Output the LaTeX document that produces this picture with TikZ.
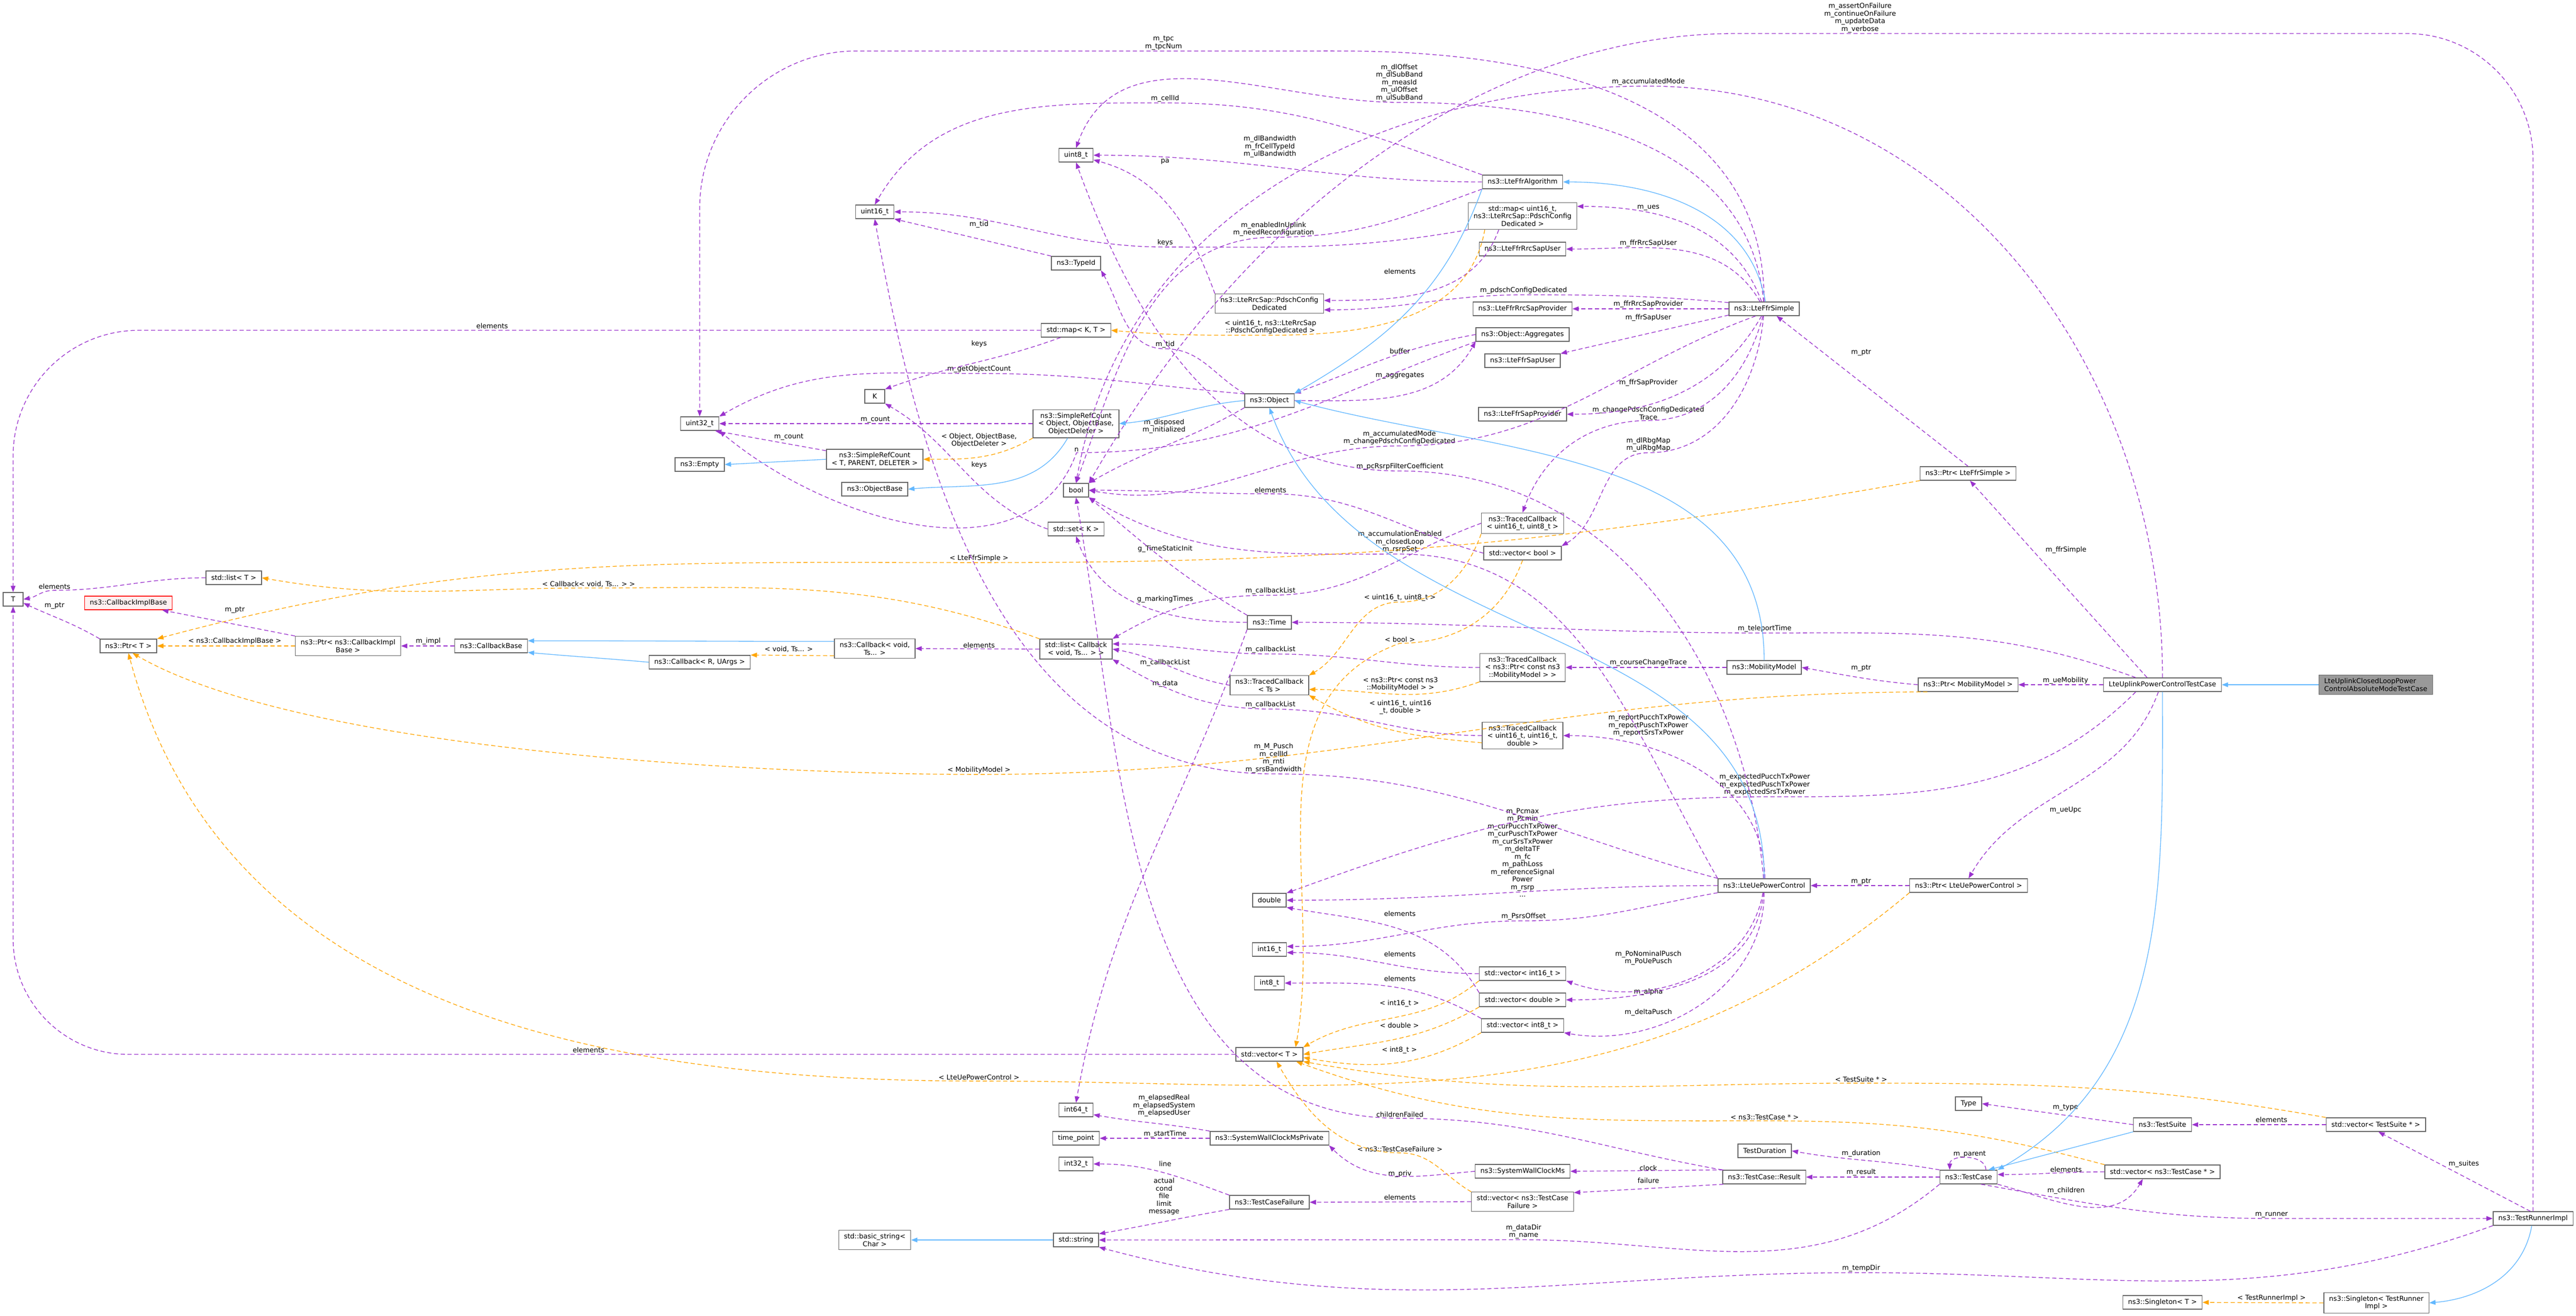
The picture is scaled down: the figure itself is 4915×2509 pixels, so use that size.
\documentclass[tikz,border=0pt]{standalone}
\usepackage{fontspec}
\setmainfont{DejaVu Sans}
\usetikzlibrary{arrows.meta}
\definecolor{usecol}{HTML}{9A32CD}
\definecolor{tmplcol}{HTML}{FFA500}
\definecolor{inhcol}{HTML}{63B8FF}
\definecolor{boxcol}{HTML}{666666}
\definecolor{mainfill}{HTML}{999999}
\definecolor{undocfill}{HTML}{FFF0F0}

\begin{document}
\begin{tikzpicture}[x=0.25pt, y=-0.25pt,
  cls/.style={draw=boxcol, fill=white, line width=0.35pt, font=\fontsize{3.25}{3.625}\selectfont,
    inner xsep=2.5pt, inner ysep=1.5pt, minimum height=6.5pt, minimum width=9.5pt, align=center},
  lbl/.style={font=\fontsize{3.25}{3.625}\selectfont, inner sep=0.25pt, align=center},
  use/.style={draw=usecol, line width=0.33pt, dash pattern=on 2pt off 1.25pt, -{Triangle[length=3pt,width=2.25pt]}},
  tmpl/.style={draw=tmplcol, line width=0.33pt, dash pattern=on 2pt off 1.25pt, -{Triangle[length=3pt,width=2.25pt]}},
  inh/.style={draw=inhcol, line width=0.33pt, -{Triangle[length=3pt,width=2.25pt]}}]
\useasboundingbox (0,0) rectangle (4915,2509);
\fill[white] (0,0) rectangle (4915,2509);

\node[cls] (T) at (25,1143) {T};
\node[cls, draw=red, fill=undocfill] (CallbackImplBase) at (245,1150) {ns3::CallbackImplBase};
\node[cls] (PtrT) at (245,1232) {ns3::Ptr< T >};
\node[cls] (ListT) at (446,1102) {std::list< T >};
\node[cls] (PtrCIB) at (664,1232) {ns3::Ptr< ns3::CallbackImpl\\Base >};
\node[cls] (CallbackBase) at (937,1232) {ns3::CallbackBase};
\node[cls] (Uint32) at (1335,808) {uint32\_t};
\node[cls] (Empty) at (1335,886) {ns3::Empty};
\node[cls] (CallbackRU) at (1335,1263) {ns3::Callback< R, UArgs >};
\node[cls] (Uint16) at (1669,404) {uint16\_t};
\node[cls] (K) at (1669,756) {K};
\node[cls] (SRCT) at (1669,876) {ns3::SimpleRefCount\\< T, PARENT, DELETER >};
\node[cls] (ObjectBase) at (1669,933) {ns3::ObjectBase};
\node[cls] (CallbackVoid) at (1669,1237) {ns3::Callback< void,\\Ts... >};
\node[cls] (BasicString) at (1669,2365) {std::basic\_string<\\Char >};
\node[cls] (Uint8) at (2053,296) {uint8\_t};
\node[cls] (TypeId) at (2053,502) {ns3::TypeId};
\node[cls] (MapKT) at (2053,630) {std::map< K, T >};
\node[cls] (SRCObj) at (2053,808) {ns3::SimpleRefCount\\< Object, ObjectBase,\\ObjectDeleter >};
\node[cls] (Bool) at (2053,935) {bool};
\node[cls] (SetK) at (2053,1009) {std::set< K >};
\node[cls] (ListCb) at (2053,1238) {std::list< Callback\\< void, Ts... > >};
\node[cls] (Int64) at (2053,2117) {int64\_t};
\node[cls] (TimePoint) at (2053,2171) {time\_point};
\node[cls] (Int32) at (2053,2220) {int32\_t};
\node[cls] (String) at (2053,2365) {std::string};
\node[cls] (PdschCfg) at (2422,579) {ns3::LteRrcSap::PdschConfig\\Dedicated};
\node[cls] (Object) at (2422,764) {ns3::Object};
\node[cls] (Time) at (2422,1187) {ns3::Time};
\node[cls] (TCbTs) at (2422,1307) {ns3::TracedCallback\\< Ts >};
\node[cls] (Double) at (2422,1717) {double};
\node[cls] (Int16) at (2422,1811) {int16\_t};
\node[cls] (Int8) at (2422,1875) {int8\_t};
\node[cls] (VectorT) at (2422,2011) {std::vector< T >};
\node[cls] (SWCMsPriv) at (2422,2171) {ns3::SystemWallClockMsPrivate};
\node[cls] (TCFailure) at (2422,2293) {ns3::TestCaseFailure};
\node[cls] (FfrAlgo) at (2905,347) {ns3::LteFfrAlgorithm};
\node[cls] (MapPdsch) at (2905,412) {std::map< uint16\_t,\\ns3::LteRrcSap::PdschConfig\\Dedicated >};
\node[cls] (FfrRrcUser) at (2905,475) {ns3::LteFfrRrcSapUser};
\node[cls] (FfrRrcProv) at (2905,589) {ns3::LteFfrRrcSapProvider};
\node[cls] (Aggregates) at (2905,638) {ns3::Object::Aggregates};
\node[cls] (FfrSapUser) at (2905,688) {ns3::LteFfrSapUser};
\node[cls] (FfrSapProv) at (2905,790) {ns3::LteFfrSapProvider};
\node[cls] (TCbU16U8) at (2905,998) {ns3::TracedCallback\\< uint16\_t, uint8\_t >};
\node[cls] (VecBool) at (2905,1055) {std::vector< bool >};
\node[cls] (TCbMob) at (2905,1273) {ns3::TracedCallback\\< ns3::Ptr< const ns3\\::MobilityModel > >};
\node[cls] (TCbPow) at (2905,1403) {ns3::TracedCallback\\< uint16\_t, uint16\_t,\\double >};
\node[cls] (VecInt16) at (2905,1857) {std::vector< int16\_t >};
\node[cls] (VecDouble) at (2905,1907) {std::vector< double >};
\node[cls] (VecInt8) at (2905,1956) {std::vector< int8\_t >};
\node[cls] (SWCMs) at (2905,2234) {ns3::SystemWallClockMs};
\node[cls] (VecTCF) at (2905,2292) {std::vector< ns3::TestCase\\Failure >};
\node[cls] (FfrSimple) at (3366,589) {ns3::LteFfrSimple};
\node[cls] (Mobility) at (3366,1273) {ns3::MobilityModel};
\node[cls] (UePC) at (3366,1689) {ns3::LteUePowerControl};
\node[cls] (Duration) at (3367,2195) {TestDuration};
\node[cls] (Result) at (3366,2245) {ns3::TestCase::Result};
\node[cls] (PtrFfr) at (3755,903) {ns3::Ptr< LteFfrSimple >};
\node[cls] (PtrMob) at (3755,1306) {ns3::Ptr< MobilityModel >};
\node[cls] (PtrUePC) at (3756,1689) {ns3::Ptr< LteUePowerControl >};
\node[cls] (Type) at (3756,2105) {Type};
\node[cls] (TestCase) at (3756,2245) {ns3::TestCase};
\node[cls] (UlPcTest) at (4126,1306) {LteUplinkPowerControlTestCase};
\node[cls] (TestSuite) at (4126,2145) {ns3::TestSuite};
\node[cls] (VecTC) at (4126,2235) {std::vector< ns3::TestCase * >};
\node[cls] (SingletonT) at (4126,2484) {ns3::Singleton< T >};
\node[cls, fill=mainfill, align=left] (AbsModeTest) at (4533,1306) {LteUplinkClosedLoopPower\\ControlAbsoluteModeTestCase};
\node[cls] (VecTS) at (4533,2145) {std::vector< TestSuite * >};
\node[cls] (SingletonRunner) at (4534,2485) {ns3::Singleton< TestRunner\\Impl >};
\node[cls] (Runner) at (4833,2324) {ns3::TestRunnerImpl};

\node[lbl] (lElemList) at (104,1119) {elements};
\node[lbl] (lPtrT) at (104,1155) {m\_ptr};
\node[lbl] (lElemMapKT) at (939,622) {elements};
\node[lbl] (lElemVecT) at (1123,2003) {elements};
\node[lbl] (lPtrCIB) at (448,1163) {m\_ptr};
\node[lbl] (lImpl) at (817,1223) {m\_impl};
\node[lbl] (lCount1) at (1670,800) {m\_count};
\node[lbl] (lCount2) at (1505,833) {m\_count};
\node[lbl] (lObjCount) at (1868,704) {m\_getObjectCount};
\node[lbl] (lTpc) at (2220,82) {m\_tpc\\m\_tpcNum};
\node[lbl] (lKeys1) at (1868,656) {keys};
\node[lbl] (lKeys2) at (1868,887) {keys};
\node[lbl] (lTid1) at (1868,428) {m\_tid};
\node[lbl] (lTid2) at (2223,657) {m\_tid};
\node[lbl] (lCellId) at (2223,188) {m\_cellId};
\node[lbl] (lKeys3) at (2223,463) {keys};
\node[lbl] (lMPusch) at (2430,1446) {m\_M\_Pusch\\m\_cellId\\m\_rnti\\m\_srsBandwidth};
\node[lbl] (lBandwidth) at (2423,280) {m\_dlBandwidth\\m\_frCellTypeId\\m\_ulBandwidth};
\node[lbl] (lPa) at (2223,308) {pa};
\node[lbl] (lDlOffset) at (2670,158) {m\_dlOffset\\m\_dlSubBand\\m\_measId\\m\_ulOffset\\m\_ulSubBand};
\node[lbl] (lRsrpCoef) at (2671,890) {m\_pcRsrpFilterCoefficient};
\node[lbl] (lDisposed) at (2221,813) {m\_disposed\\m\_initialized};
\node[lbl] (lStaticInit) at (2223,1047) {g\_TimeStaticInit};
\node[lbl] (lElemBool) at (2424,935) {elements};
\node[lbl] (lEnabled) at (2430,437) {m\_enabledInUplink\\m\_needReconfiguration};
\node[lbl] (lAccChange) at (2670,835) {m\_accumulatedMode\\m\_changePdschConfigDedicated};
\node[lbl] (lAccEnabled) at (2671,1034) {m\_accumulationEnabled\\m\_closedLoop\\m\_rsrpSet};
\node[lbl] (lAccMode) at (3145,156) {m\_accumulatedMode};
\node[lbl] (lAssert) at (3549,34) {m\_assertOnFailure\\m\_continueOnFailure\\m\_updateData\\m\_verbose};
\node[lbl] (lMarking) at (2223,1143) {g\_markingTimes};
\node[lbl] (lN) at (2054,858) {n};
\node[lbl] (lBuffer) at (2671,670) {buffer};
\node[lbl] (lAggr) at (2671,716) {m\_aggregates};
\node[lbl] (lElemCb) at (1868,1231) {elements};
\node[lbl] (lCbList0) at (2223,1264) {m\_callbackList};
\node[lbl] (lCbList1) at (2424,1127) {m\_callbackList};
\node[lbl] (lCbList2) at (2424,1239) {m\_callbackList};
\node[lbl] (lCbList3) at (2424,1344) {m\_callbackList};
\node[lbl] (lData) at (2223,1304) {m\_data};
\node[lbl] (lCourse) at (3145,1264) {m\_courseChangeTrace};
\node[lbl] (lPtrMob) at (3551,1274) {m\_ptr};
\node[lbl] (lUeMob) at (3941,1298) {m\_ueMobility};
\node[lbl] (lFfrSimple) at (3942,1049) {m\_ffrSimple};
\node[lbl] (lPtrFfr) at (3551,672) {m\_ptr};
\node[lbl] (lTeleport) at (3367,1199) {m\_teleportTime};
\node[lbl] (lExpected) at (3367,1497) {m\_expectedPucchTxPower\\m\_expectedPuschTxPower\\m\_expectedSrsTxPower};
\node[lbl] (lUeUpc) at (3941,1545) {m\_ueUpc};
\node[lbl] (lPtrUePC) at (3551,1681) {m\_ptr};
\node[lbl] (lReport) at (3145,1384) {m\_reportPucchTxPower\\m\_reportPuschTxPower\\m\_reportSrsTxPower};
\node[lbl] (lPcmax) at (2905,1626) {m\_Pcmax\\m\_Pcmin\\m\_curPucchTxPower\\m\_curPuschTxPower\\m\_curSrsTxPower\\m\_deltaTF\\m\_fc\\m\_pathLoss\\m\_referenceSignal\\Power\\m\_rsrp\\...};
\node[lbl] (lPsrs) at (2907,1748) {m\_PsrsOffset};
\node[lbl] (lPoNominal) at (3145,1827) {m\_PoNominalPusch\\m\_PoUePusch};
\node[lbl] (lAlpha) at (3145,1892) {m\_alpha};
\node[lbl] (lDeltaPusch) at (3145,1931) {m\_deltaPusch};
\node[lbl] (lElemI16) at (2671,1820) {elements};
\node[lbl] (lElemDbl) at (2671,1743) {elements};
\node[lbl] (lElemI8) at (2671,1867) {elements};
\node[lbl] (lElapsed) at (2221,2109) {m\_elapsedReal\\m\_elapsedSystem\\m\_elapsedUser};
\node[lbl] (lStart) at (2223,2163) {m\_startTime};
\node[lbl] (lLine) at (2223,2220) {line};
\node[lbl] (lActual) at (2221,2282) {actual\\cond\\file\\limit\\message};
\node[lbl] (lDataDir) at (2907,2349) {m\_dataDir\\m\_name};
\node[lbl] (lTempDir) at (3551,2419) {m\_tempDir};
\node[lbl] (lPriv) at (2671,2239) {m\_priv};
\node[lbl] (lElemTCF) at (2671,2284) {elements};
\node[lbl] (lClock) at (3145,2228) {clock};
\node[lbl] (lFailure) at (3145,2252) {failure};
\node[lbl] (lChildFail) at (2671,2126) {childrenFailed};
\node[lbl] (lDuration) at (3551,2200) {m\_duration};
\node[lbl] (lResult) at (3551,2236) {m\_result};
\node[lbl] (lParent) at (3758,2201) {m\_parent};
\node[lbl] (lType) at (3941,2112) {m\_type};
\node[lbl] (lElemTS) at (4334,2136) {elements};
\node[lbl] (lElemTC) at (3942,2231) {elements};
\node[lbl] (lChildren) at (3942,2271) {m\_children};
\node[lbl] (lRunner) at (4334,2317) {m\_runner};
\node[lbl] (lSuites) at (4701,2220) {m\_suites};
\node[lbl] (lUes) at (3145,396) {m\_ues};
\node[lbl] (lRrcUser) at (3145,464) {m\_ffrRrcSapUser};
\node[lbl] (lPdsch) at (2907,554) {m\_pdschConfigDedicated};
\node[lbl] (lRrcProv) at (3145,580) {m\_ffrRrcSapProvider};
\node[lbl] (lSapUser) at (3145,606) {m\_ffrSapUser};
\node[lbl] (lSapProv) at (3145,730) {m\_ffrSapProvider};
\node[lbl] (lChgTrace) at (3145,788) {m\_changePdschConfigDedicated\\Trace};
\node[lbl] (lRbg) at (3145,848) {m\_dlRbgMap\\m\_ulRbgMap};
\node[lbl] (lElemPdsch) at (2671,518) {elements};

\node[lbl] (tObj) at (1868,840) {< Object, ObjectBase,\\ObjectDeleter >};
\node[lbl] (tCIB) at (448,1223) {< ns3::CallbackImplBase >};
\node[lbl] (tFfr) at (1868,1065) {< LteFfrSimple >};
\node[lbl] (tMob) at (1868,1469) {< MobilityModel >};
\node[lbl] (tUePC) at (1868,2055) {< LteUePowerControl >};
\node[lbl] (tCbList) at (1123,1114) {< Callback< void, Ts... > >};
\node[lbl] (tVoidTs) at (1505,1238) {< void, Ts... >};
\node[lbl] (tMapPdsch) at (2424,624) {< uint16\_t, ns3::LteRrcSap\\::PdschConfigDedicated >};
\node[lbl] (tU16U8) at (2671,1140) {< uint16\_t, uint8\_t >};
\node[lbl] (tBool) at (2671,1220) {< bool >};
\node[lbl] (tPtrMob) at (2672,1305) {< ns3::Ptr< const ns3\\::MobilityModel > >};
\node[lbl] (tPow) at (2672,1349) {< uint16\_t, uint16\\\_t, double >};
\node[lbl] (tI16) at (2670,1914) {< int16\_t >};
\node[lbl] (tDbl) at (2670,1956) {< double >};
\node[lbl] (tI8) at (2670,2003) {< int8\_t >};
\node[lbl] (tTS) at (3551,2059) {< TestSuite * >};
\node[lbl] (tTC) at (3367,2131) {< ns3::TestCase * >};
\node[lbl] (tTCF) at (2671,2192) {< ns3::TestCaseFailure >};
\node[lbl] (tRunner) at (4334,2476) {< TestRunnerImpl >};

\draw[use] (ListT.west) to[out=180,in=0] (lElemList.south) to[out=180,in=10] (T.east);
\draw[use] (PtrT.north west) to[out=150,in=-25] (T.-20);
\draw[use, rounded corners=60pt] (MapKT.west) -| (T.north);
\draw[use, rounded corners=55pt] (VectorT.west) -| (T.south);
\draw[use] (PtrCIB.north west) -- (CallbackImplBase.-12);
\draw[use] (CallbackBase.west) -- (PtrCIB.east);
\draw[use] (SRCObj.west) -- (Uint32.east);
\draw[use] (SRCT.170) -- (Uint32.-25);
\draw[use] (Object.165) to[out=175,in=0] (lObjCount.south) to[out=180,in=30] (Uint32.north east);
\draw[use, rounded corners=75pt] (FfrSimple.north) to[out=90,in=0] (lTpc.south) -| (Uint32.north);
\draw[use] (MapKT.-155) to[out=200,in=20] (K.north east);
\draw[use] (SetK.west) to[out=160,in=-30] (K.south east);
\draw[use] (TypeId.north west) -- (Uint16.-20);
\draw[use] (Object.north west) to[out=150,in=0] (lTid2.south) to[out=180,in=-60] (TypeId.south east);
\draw[use] (FfrAlgo.north west) to[out=160,in=0] (lCellId.south) to[out=180,in=60] (Uint16.north);
\draw[use] (MapPdsch.south west) to[out=190,in=0] (lKeys3.south) to[out=180,in=0] (Uint16.east);
\draw[use] (UePC.north west) to[out=165,in=0] (lMPusch.south) to[out=180,in=-80] (Uint16.south);
\draw[use] (FfrAlgo.west) to[out=180,in=0] (Uint8.east);
\draw[use] (PdschCfg.north west) to[out=110,in=-15] (Uint8.-15);
\draw[use] (FfrSimple.95) to[out=95,in=0] (lDlOffset.south) to[out=180,in=70] (Uint8.north);
\draw[use] (UePC.95) to[out=95,in=0] (lRsrpCoef.south) to[out=180,in=-70] (Uint8.south);
\draw[use] (Object.south west) to[out=210,in=30] (Bool.north east);
\draw[use] (Time.north west) to[out=150,in=-40] (Bool.south east);
\draw[use] (VecBool.west) to[out=165,in=0] (lElemBool.south) to[out=180,in=0] (Bool.east);
\draw[use] (FfrAlgo.south west) to[out=200,in=0] (lEnabled.south) to[out=180,in=70] (Bool.north);
\draw[use] (FfrSimple.-140) to[out=200,in=0] (lAccChange.south) to[out=180,in=-10] (Bool.east);
\draw[use] (UePC.north west) to[out=120,in=0] (lAccEnabled.south) to[out=180,in=-30] (Bool.south east);
\draw[use] (UlPcTest.north) to[out=90,in=0] (lAccMode.south) to[out=180,in=80] (Bool.north);
\draw[use, rounded corners=60pt] (Runner.north) |- (lAssert.south) to[out=180,in=60] (Bool.north east);
\draw[use] (Time.west) to[out=180,in=-70] (SetK.south);
\draw[use] (Aggregates.south west) to[out=200,in=0] (lN.south) to[out=250,in=-40] (Uint32.south east);
\draw[use] (Aggregates.west) to[out=190,in=20] (Object.north east);
\draw[use] (Object.east) to[out=0,in=240] (Aggregates.south west);
\draw[use] (ListCb.west) -- (CallbackVoid.east);
\draw[use] (TCbTs.west) to[out=170,in=-10] (ListCb.east);
\draw[use] (TCbU16U8.west) to[out=200,in=0] (lCbList1.south) to[out=180,in=30] (ListCb.north east);
\draw[use] (TCbMob.west) to[out=180,in=0] (lCbList2.south) to[out=180,in=0] (ListCb.8);
\draw[use] (TCbPow.west) to[out=180,in=0] (lCbList3.south) to[out=180,in=-30] (ListCb.south east);
\draw[use] (Time.south west) to[out=250,in=80] (Int64.north);
\draw[use] (Mobility.west) -- (TCbMob.east);
\draw[use] (PtrMob.west) to[out=175,in=-10] (Mobility.east);
\draw[use] (UlPcTest.west) -- (PtrMob.east);
\draw[use] (UlPcTest.155) -- (PtrFfr.-75);
\draw[use] (PtrFfr.north) -- (FfrSimple.-30);
\draw[use] (UlPcTest.165) to[out=160,in=0] (lTeleport.south) to[out=180,in=0] (Time.east);
\draw[use] (UlPcTest.-165) to[out=225,in=0] (lExpected.south) to[out=180,in=20] (Double.north east);
\draw[use] (UlPcTest.-120) to[out=250,in=60] (PtrUePC.north);
\draw[use] (PtrUePC.west) -- (UePC.east);
\draw[use] (UePC.85) to[out=90,in=0] (TCbPow.east);
\draw[use] (UePC.west) to[out=180,in=0] (Double.east);
\draw[use] (UePC.south west) to[out=190,in=0] (lPsrs.south) to[out=180,in=0] (Int16.10);
\draw[use] (UePC.-100) to[out=260,in=-20] (VecInt16.south east);
\draw[use] (UePC.-95) to[out=265,in=0] (VecDouble.east);
\draw[use] (UePC.-90) to[out=270,in=-10] (VecInt8.south east);
\draw[use] (VecInt16.west) to[out=180,in=0] (Int16.-10);
\draw[use] (VecDouble.north west) to[out=120,in=-10] (Double.south east);
\draw[use] (VecInt8.north west) to[out=150,in=0] (Int8.east);
\draw[use] (SWCMsPriv.north west) to[out=170,in=-10] (Int64.-15);
\draw[use] (SWCMsPriv.west) -- (TimePoint.east);
\draw[use] (TCFailure.north west) to[out=160,in=0] (Int32.east);
\draw[use] (TCFailure.south west) to[out=190,in=10] (String.15);
\draw[use] (TestCase.south west) to[out=220,in=0] (lDataDir.south) -- (String.east);
\draw[use] (Runner.south west) to[out=200,in=0] (lTempDir.south) to[out=180,in=-15] (String.south east);
\draw[use] (SWCMs.west) to[out=185,in=-45] (SWCMsPriv.south east);
\draw[use] (VecTCF.west) -- (TCFailure.east);
\draw[use] (Result.170) -- (SWCMs.east);
\draw[use] (Result.-170) -- (VecTCF.10);
\draw[use] (Result.north west) to[out=170,in=0] (lChildFail.south) to[out=180,in=-80] (Bool.south);
\draw[use] (TestCase.north west) to[out=170,in=-10] (Duration.east);
\draw[use] (TestCase.west) -- (Result.east);
\draw[use] ([xshift=8.25pt]TestCase.north) .. controls +(0,-30) and +(0,-30) .. ([xshift=-9pt]TestCase.north);
\draw[use] (TestSuite.west) -- (Type.east);
\draw[use] (VecTS.west) -- (TestSuite.east);
\draw[use] (VecTC.west) to[out=180,in=0] (TestCase.5);
\draw[use] (TestCase.south east) to[out=-15,in=240] (VecTC.-160);
\draw[use] (TestCase.-30) to[out=-10,in=180] (lRunner.south) to[out=0,in=180] (Runner.west);
\draw[use] (Runner.110) -- (VecTS.-70);
\draw[use] (FfrSimple.110) to[out=110,in=0] (MapPdsch.10);
\draw[use] (FfrSimple.120) to[out=120,in=0] (FfrRrcUser.east);
\draw[use] (FfrSimple.170) to[out=175,in=0] (lPdsch.south) to[out=180,in=0] ([yshift=-3pt]PdschCfg.east);
\draw[use] (FfrSimple.west) -- (FfrRrcProv.east);
\draw[use] (FfrSimple.-170) -- (FfrSapUser.north east);
\draw[use] (FfrSimple.-110) to[out=240,in=0] (FfrSapProv.east);
\draw[use] (FfrSimple.-100) to[out=255,in=0] (lChgTrace.south) to[out=180,in=70] (TCbU16U8.north);
\draw[use] (FfrSimple.-95) to[out=265,in=0] (lRbg.south) to[out=180,in=30] (VecBool.north east);
\draw[use] (MapPdsch.-150) to[out=250,in=0] ([yshift=1.5pt]PdschCfg.east);

\draw[tmpl] (SRCObj.south west) to[out=210,in=0] (SRCT.east);
\draw[tmpl] (PtrCIB.west) -- (PtrT.east);
\draw[tmpl] (PtrFfr.south west) to[out=190,in=0] (tFfr.south) to[out=180,in=15] (PtrT.north east);
\draw[tmpl] (PtrMob.-170) to[out=180,in=0] (tMob.south) to[out=180,in=-30,looseness=0.6] ([xshift=2pt]PtrT.south);
\draw[tmpl] (PtrUePC.south west) to[out=220,in=0] (tUePC.south) to[out=180,in=-75] (PtrT.south);
\draw[tmpl] (ListCb.north west) to[out=160,in=0] (tCbList.south) to[out=180,in=-10] (ListT.east);
\draw[tmpl] (CallbackVoid.-170) -- (CallbackRU.north east);
\draw[tmpl] (MapPdsch.-160) to[out=260,in=0] (tMapPdsch.south) to[out=180,in=-5] (MapKT.east);
\draw[tmpl] (TCbU16U8.south west) to[out=250,in=0] (tU16U8.south) to[out=180,in=30] (TCbTs.north east);
\draw[tmpl] (VecBool.south) to[out=250,in=0] (tBool.south) to[out=200,in=80] ([xshift=12.5pt]VectorT.north);
\draw[tmpl] (TCbMob.south west) to[out=200,in=0] ([yshift=-2pt]TCbTs.east);
\draw[tmpl] (TCbPow.-170) to[out=175,in=-30] (TCbTs.south east);
\draw[tmpl] (VecInt16.south west) to[out=220,in=30] (VectorT.north east);
\draw[tmpl] (VecDouble.south west) to[out=210,in=10] (VectorT.east);
\draw[tmpl] (VecInt8.south west) to[out=210,in=-10] ([yshift=-1.5pt]VectorT.east);
\draw[tmpl] (VecTS.north west) to[out=170,in=0] (tTS.south) to[out=180,in=-10] (VectorT.south east);
\draw[tmpl] (VecTC.north west) to[out=165,in=0] (tTC.south) to[out=180,in=-20] (VectorT.-15);
\draw[tmpl] (VecTCF.north west) to[out=150,in=0] (tTCF.south) to[out=180,in=-60] (VectorT.-45);
\draw[tmpl] (SingletonRunner.west) -- (SingletonT.east);

\draw[inh] (AbsModeTest.west) -- (UlPcTest.east);
\draw[inh] (UlPcTest.south) to[out=-90,in=30] (TestCase.north east);
\draw[inh] (TestSuite.south west) -- (TestCase.20);
\draw[inh] (Runner.-100) to[out=-100,in=5] (SingletonRunner.east);
\draw[inh] (FfrSimple.80) to[out=100,in=0] (FfrAlgo.east);
\draw[inh] (FfrAlgo.south west) to[out=250,in=30] (Object.north east);
\draw[inh] (Mobility.north) to[out=90,in=-15] (Object.east);
\draw[inh] (UePC.north) to[out=90,in=-70] (Object.south);
\draw[inh] (Object.west) to[out=185,in=5] (SRCObj.east);
\draw[inh] (SRCObj.-120) to[out=240,in=5] (ObjectBase.east);
\draw[inh] (SRCT.west) -- (Empty.east);
\draw[inh] (CallbackVoid.170) to[out=180,in=0] (CallbackBase.8);
\draw[inh] (CallbackRU.west) to[out=175,in=-5] (CallbackBase.-10);
\draw[inh] (String.west) -- (BasicString.east);
%%\draw[help lines] (0,0) grid[step=100] (4915,2509);
\end{tikzpicture}
\end{document}
